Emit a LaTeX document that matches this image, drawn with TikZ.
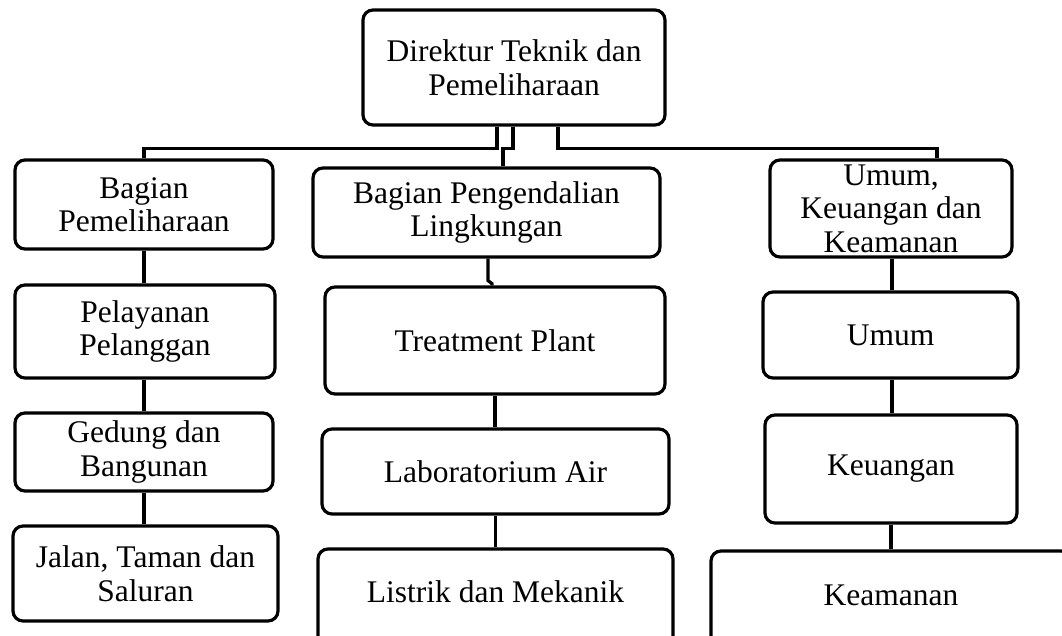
\documentclass[tikz,border=0pt]{standalone}
\usepackage{fontspec}
\setmainfont{Liberation Serif}
\begin{document}
\begin{tikzpicture}[x=1pt,y=-1pt,line width=3.2pt,
  box/.style={draw, rounded corners=10pt, inner sep=0pt, align=center,
    font=\fontsize{31.5}{33.5}\selectfont},
  conn/.style={draw, line width=3.2pt}]
\clip (0,0) rectangle (1062,635);
% top
\node[box, minimum width=302pt, minimum height=115pt] (top) at (514,67.5) {Direktur Teknik dan\\Pemeliharaan};
% left column
\node[box, minimum width=258pt, minimum height=89pt] (bp) at (144,204.5) {Bagian\\Pemeliharaan};
\node[box, minimum width=260pt, minimum height=93pt] (pp) at (145,331.5) {Pelayanan\\Pelanggan};
\node[box, minimum width=258pt, minimum height=78pt] (gb) at (144,452) {Gedung dan\\Bangunan};
\node[box, minimum width=265pt, minimum height=95pt] (jt) at (145.5,573.5) {Jalan, Taman dan\\Saluran};
% middle column
\node[box, minimum width=347pt, minimum height=89pt] (pl) at (486.5,212.5) {Bagian Pengendalian\\Lingkungan};
\node[box, minimum width=340pt, minimum height=107pt] (tp) at (495,340.5) {Treatment Plant};
\node[box, minimum width=347pt, minimum height=85pt] (la) at (495.5,471.5) {Laboratorium Air};
\node[box, minimum width=355pt, minimum height=111pt, text height=22pt, text depth=27pt] (lm) at (495.5,604.5) {Listrik dan Mekanik};
% right column
\node[box, minimum width=242pt, minimum height=97pt] (uk) at (891,208.5) {Umum,\\Keuangan dan\\Keamanan};
\node[box, minimum width=255pt, minimum height=86pt] (um) at (890.5,335) {Umum};
\node[box, minimum width=252pt, minimum height=108pt] (ku) at (891,469) {Keuangan};
\node[box, minimum width=360pt, minimum height=109pt, text height=22pt, text depth=23pt] (km) at (891,605.5) {Keamanan};
% connectors from top
\draw[conn] ([xshift=-17pt]top.south) -- ++(0,22) -| (bp.north);
\draw[conn] ([xshift=-1pt]top.south) -- ++(0,22) -| ([xshift=16.5pt]pl.north);
\draw[conn] ([xshift=44pt]top.south) -- ++(0,22) -| ([xshift=46pt]uk.north);
% left chain
\draw[conn] (bp.south) -- (bp.south |- pp.north);
\draw[conn] (bp.south |- pp.south) -- (bp.south |- gb.north);
\draw[conn] (gb.south) -- (gb.south |- jt.north);
% middle chain
\draw[conn] ([xshift=1.5pt]pl.south) -- ++(0,22) -- ++(4,3) -- ([xshift=-3pt]tp.north);
\draw[conn] (tp.south) -- (tp.south |- la.north);
\draw[conn] (la.south) -- (la.south |- lm.north);
% right chain
\draw[conn] ([xshift=1pt]uk.south) -- ([xshift=1pt]uk.south |- um.north);
\draw[conn] ([xshift=1.5pt]um.south) -- ([xshift=1.5pt]um.south |- ku.north);
\draw[conn] (ku.south) -- (ku.south |- km.north);
\end{tikzpicture}
\end{document}
